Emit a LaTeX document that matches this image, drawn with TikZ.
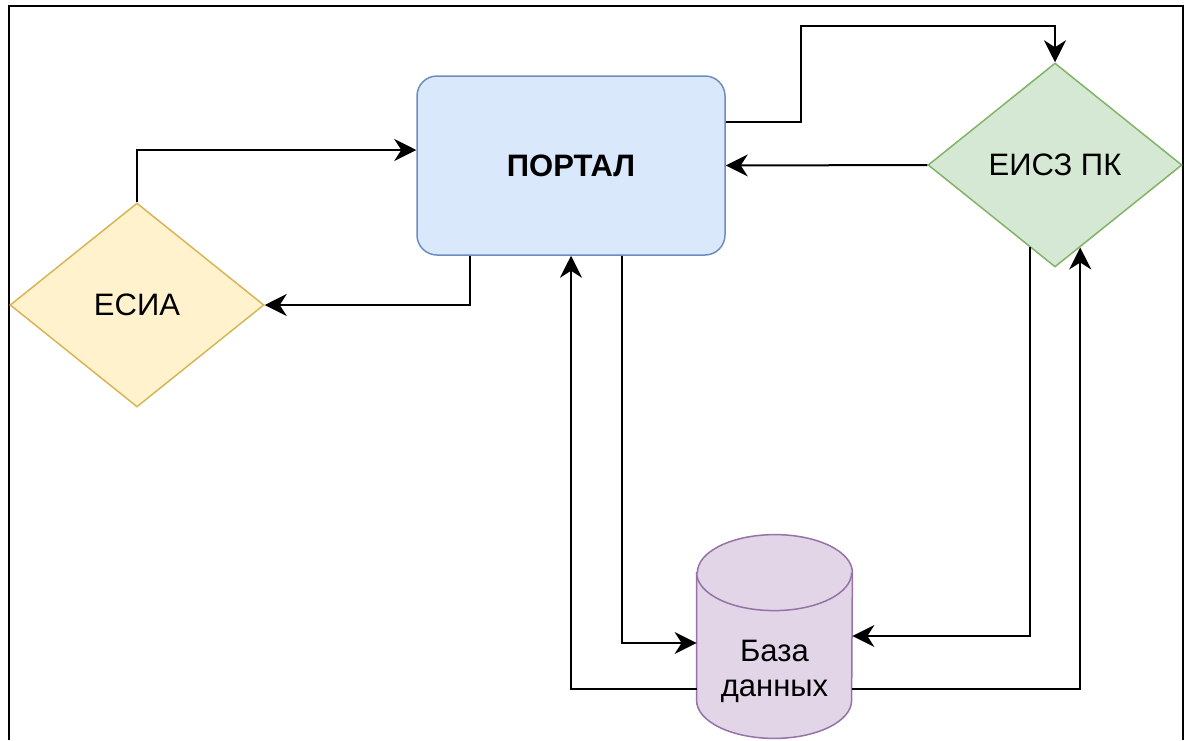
\documentclass[tikz,border=0pt]{standalone}
\usepackage{fontspec}
\setmainfont{Liberation Sans}
\usetikzlibrary{shapes.geometric, arrows.meta}
\tikzstyle{scheme} = [x = .5pt, y = -.5pt, every node/.style={font=\fontsize{15.5}{18}\selectfont, align=center}]
\definecolor{portalFill}{HTML}{DAE8FC}
\definecolor{portalLine}{HTML}{6C8EBF}
\definecolor{esiaFill}{HTML}{FFF2CC}
\definecolor{esiaLine}{HTML}{D6B656}
\definecolor{eiszFill}{HTML}{D5E8D4}
\definecolor{eiszLine}{HTML}{82B366}
\definecolor{dbFill}{HTML}{E1D5E7}
\definecolor{dbLine}{HTML}{9673A6}
\tikzstyle{portalStyle} = [draw=portalLine, fill=portalFill, rounded corners = 10pt, line width = .75pt, minimum width = 154pt, minimum height = 89.5pt, font=\fontsize{15.5}{18}\selectfont\bfseries]
\tikzstyle{decisionStyle} = [diamond, line width = .75pt, minimum width = 127pt, minimum height = 102pt, inner sep = 0pt]
\tikzstyle{dbStyle} = [draw=dbLine, fill=dbFill, line width = .75pt]
\tikzstyle{connector} = [-{Stealth[length = 11pt, width = 11pt, inset = 3.5pt]}, line width = 1pt]
\newcommand{\dbRx}{38.75pt}
\newcommand{\dbRy}{19pt}

\begin{document}
\begin{tikzpicture}[scheme]
  \useasboundingbox (0,0) rectangle (1184,740);
  \draw [line width = 1pt] (8.5,740) -- (8.5,5.5) -- (1183,5.5) -- (1183,740);

  % blocks
  \node [portalStyle] (portal) at (571,165.5) {ПОРТАЛ};
  \node [decisionStyle, draw=esiaLine, fill=esiaFill] (esia) at (137,305) {ЕСИА};
  \node [decisionStyle, draw=eiszLine, fill=eiszFill] (eisz) at (1055,165) {ЕИСЗ ПК};

  % database cylinder
  \node [minimum width = 77.5pt, minimum height = 65pt, inner sep = 0pt] (db) at (774.5,673) {};
  \filldraw [dbStyle] ([yshift=17.5pt]db.north west) -- ([yshift=19pt]db.south west)
    arc [start angle = 180, end angle = 360, x radius = \dbRx, y radius = \dbRy]
    -- ([yshift=17.5pt]db.north east)
    arc [start angle = 0, end angle = 180, x radius = \dbRx, y radius = \dbRy] -- cycle;
  \draw [dbStyle, fill=none] ([yshift=17.5pt]db.north west)
    arc [start angle = 180, end angle = 360, x radius = \dbRx, y radius = \dbRy];
  \node at ([yshift=1pt]db.center) {База\\[-.5pt]данных};

  % connections
  \draw [connector] (esia.north) |- ([yshift=7.75pt]portal.west);
  \draw [connector] ([xshift=-50.5pt]portal.south) |- (esia.east);
  \draw [connector] ([yshift=21.75pt]portal.east) -- ++(75,0) |- ([yshift=18pt]eisz.north) -- (eisz.north);
  \draw [connector] (eisz.west) -- (portal.east);
  \draw [connector] ([xshift=25.5pt]portal.south) |- ([yshift=15pt]db.west);
  \draw [connector] ([yshift=-8pt]db.west) -| (portal.south);
  \draw [connector] (eisz.253) |- ([yshift=18.5pt]db.east);
  \draw [connector] ([yshift=-8pt]db.east) -| (eisz.287);
\end{tikzpicture}
\end{document}
